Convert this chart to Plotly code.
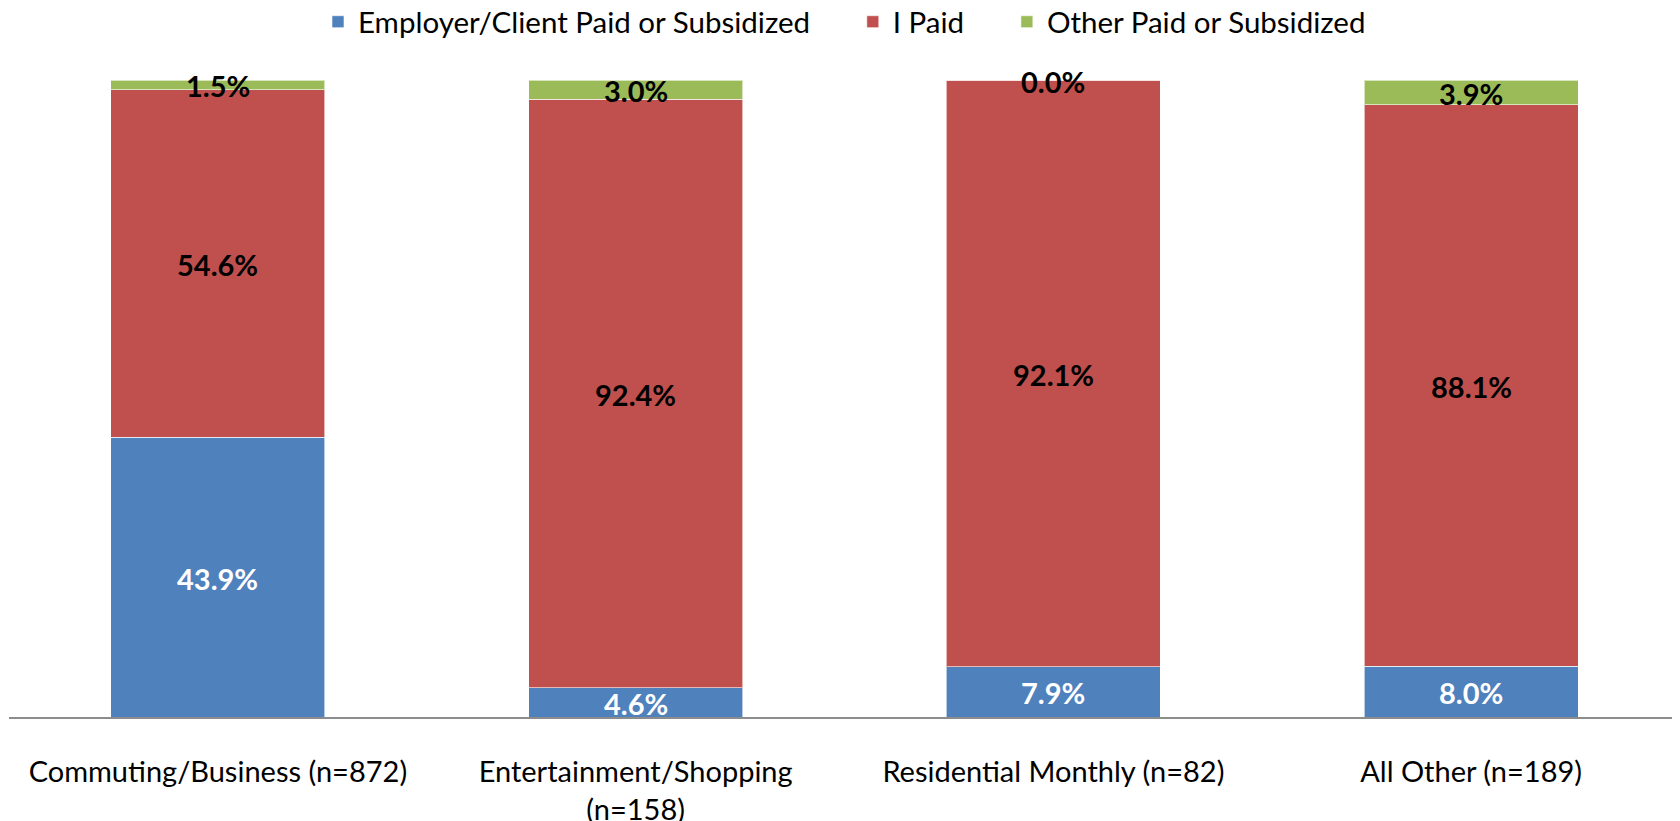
import plotly.graph_objects as go

categories = ["Commuting/Business (n=872)", "Entertainment/Shopping<br>(n=158)",
              "Residential Monthly (n=82)", "All Other (n=189)"]
employer = [43.9, 4.6, 7.9, 8.0]
i_paid = [54.6, 92.4, 92.1, 88.1]
other = [1.5, 3.0, 0.0, 3.9]

series = [
    ("Employer/Client Paid or Subsidized", employer, "#4F81BD", "white"),
    ("I Paid", i_paid, "#C0504D", "black"),
    ("Other Paid or Subsidized", other, "#9BBB59", "black"),
]

FONT = "Lato"
PAD = "\u00a0" * 5
fig = go.Figure()
base = [0.0] * len(categories)
for k, (name, vals, color, tcolor) in enumerate(series):
    fig.add_trace(go.Bar(
        x=categories, y=[v / 100 for v in vals],
        name=name + (PAD if k < len(series) - 1 else ""),
        marker=dict(color=color, line=dict(color="rgba(255,255,255,0.6)", width=1)),
    ))
annotations = []
for name, vals, color, tcolor in series:
    for c, b, v in zip(categories, base, vals):
        annotations.append(dict(
            x=c, y=(b + v / 2) / 100, xref="x", yref="y",
            text=f"{v:.1f}%", showarrow=False, yshift=-1,
            font=dict(family=FONT, size=29, color=tcolor, weight="bold"),
        ))
    base = [b + v for b, v in zip(base, vals)]

fig.update_layout(
    width=1672, height=813,
    barmode="stack", bargap=0.488,
    margin=dict(l=1, r=0, t=72, b=104, autoexpand=False),
    plot_bgcolor="white", paper_bgcolor="white",
    font=dict(family=FONT, size=29, color="black"),
    annotations=annotations,
    legend=dict(orientation="h", x=0.5, xanchor="center", y=1.091, yanchor="middle",
                yref="paper", traceorder="normal",
                font=dict(family=FONT, size=29.5)),
    xaxis=dict(showline=True, linecolor="#8C8C8C", linewidth=2, ticks="",
               tickfont=dict(family=FONT, size=29), ticklabelstandoff=28),
    yaxis=dict(visible=False, range=[0, 1]),
)
fig.write_html("out.html")
